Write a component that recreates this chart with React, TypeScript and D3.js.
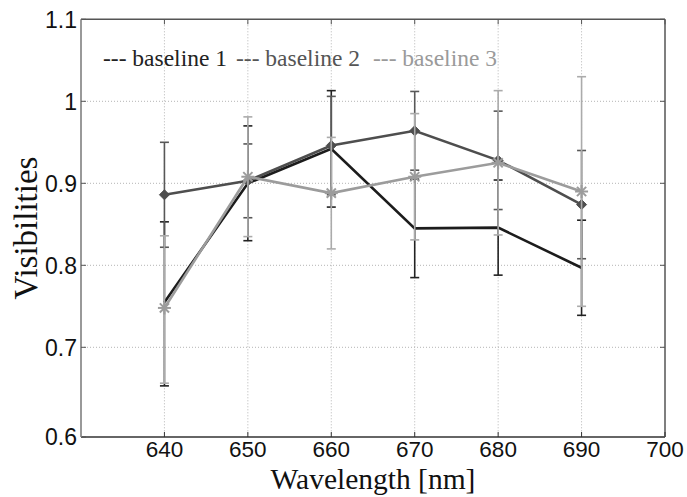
import React from "react";
import * as d3 from "d3";

const wavelengths = [640, 650, 660, 670, 680, 690];
const b1 = [0.755, 0.9, 0.942, 0.845, 0.846, 0.797];
const b1Err = [0.098, 0.07, 0.071, 0.06, 0.058, 0.058];
const b2 = [0.886, 0.903, 0.946, 0.964, 0.928, 0.874];
const b2Err = [0.064, 0.045, 0.06, 0.048, 0.06, 0.066];
const b3 = [0.748, 0.908, 0.888, 0.908, 0.925, 0.89];
const b3Err = [0.088, 0.073, 0.068, 0.077, 0.088, 0.14];
const xTicks = [640, 650, 660, 670, 680, 690, 700];
const yTicks = [0.6, 0.7, 0.8, 0.9, 1.0, 1.1];
const legendLabels = ["--- baseline 1", "--- baseline 2", "--- baseline 3"];

const W = 687;
const H = 497;
const L = 81;
const R = 665;
const T = 19.3;
const B = 437;

export default function App() {
  const x = d3.scaleLinear().domain([630, 700]).range([L, R]);
  const y = d3.scaleLinear().domain([0.6, 0.7, 1.1]).range([B, 347.3, T]);

  const series = [
    { vals: b1, errs: b1Err, line: "#1c1c1c", err: "#222", marker: "none" },
    { vals: b2, errs: b2Err, line: "#4e4e4e", err: "#585858", marker: "diamond" },
    { vals: b3, errs: b3Err, line: "#9c9c9c", err: "#ababab", marker: "star" },
  ];
  const legendColors = ["#222", "#555", "#9a9a9a"];
  const legendX = [103, 236, 373];

  const lineGen = d3
    .line<number>()
    .x((_, i) => x(wavelengths[i]))
    .y((d) => y(d));

  const grid = "#b4b4b4";
  const cap = 4.5;

  return (
    <svg
      width={W}
      height={H}
      style={{ position: "absolute", left: 0, top: 0, background: "#fff" }}
    >
      <rect x={0} y={0} width={W} height={H} fill="#fff" />
      {/* grid */}
      {xTicks.slice(0, -1).map((t) => (
        <line
          key={"gx" + t}
          x1={x(t)}
          x2={x(t)}
          y1={T}
          y2={B}
          stroke={grid}
          strokeWidth={1}
          strokeDasharray="1,2"
        />
      ))}
      {yTicks.slice(1, -1).map((t) => (
        <line
          key={"gy" + t}
          x1={L}
          x2={R}
          y1={y(t)}
          y2={y(t)}
          stroke={grid}
          strokeWidth={1}
          strokeDasharray="1,2"
        />
      ))}
      {/* axes box */}
      <line x1={L} x2={R} y1={T} y2={T} stroke="#555" strokeWidth={1.5} />
      <line x1={L} x2={R} y1={B} y2={B} stroke="#333" strokeWidth={1.5} />
      <line x1={L} x2={L} y1={T} y2={B} stroke="#999" strokeWidth={2} />
      <line x1={R} x2={R} y1={T} y2={B} stroke="#555" strokeWidth={1.5} />
      {/* ticks */}
      {xTicks.map((t) => (
        <g key={"tx" + t}>
          <line x1={x(t)} x2={x(t)} y1={B} y2={B - 5} stroke="#333" />
          <line x1={x(t)} x2={x(t)} y1={T} y2={T + 5} stroke="#555" />
          <text
            x={x(t)}
            y={B + 19.5}
            textAnchor="middle"
            fontFamily="'Liberation Sans', Arial, sans-serif"
            fontSize={22.5}
            fill="#111"
          >
            {t}
          </text>
        </g>
      ))}
      {yTicks.map((t) => (
        <g key={"ty" + t}>
          <line x1={L} x2={L + 5} y1={y(t)} y2={y(t)} stroke="#555" />
          <line x1={R} x2={R - 5} y1={y(t)} y2={y(t)} stroke="#555" />
          <text
            x={77}
            y={y(t)}
            dy="0.36em"
            textAnchor="end"
            fontFamily="'Liberation Sans', Arial, sans-serif"
            fontSize={23}
            fill="#111"
          >
            {d3.format("~g")(t)}
          </text>
        </g>
      ))}
      {/* series */}
      {series.map((s, si) => (
        <g key={"s" + si}>
          {s.vals.map((v, i) => {
            const cx = x(wavelengths[i]);
            const y1 = y(v + s.errs[i]);
            const y2 = y(v - s.errs[i]);
            return (
              <g key={i} stroke={s.err} strokeWidth={1.6}>
                <line x1={cx} x2={cx} y1={y1} y2={y2} />
                <line x1={cx - cap} x2={cx + cap} y1={y1} y2={y1} />
                <line x1={cx - cap} x2={cx + cap} y1={y2} y2={y2} />
              </g>
            );
          })}
          <path d={lineGen(s.vals) || ""} fill="none" stroke={s.line} strokeWidth={2.6} />
          {s.vals.map((v, i) => {
            const cx = x(wavelengths[i]);
            const cy = y(v);
            if (s.marker === "diamond") {
              const r = 5;
              return (
                <path
                  key={"m" + i}
                  d={`M${cx},${cy - r}L${cx + r},${cy}L${cx},${cy + r}L${cx - r},${cy}Z`}
                  fill={s.line}
                  stroke={s.line}
                />
              );
            }
            if (s.marker === "star") {
              const r = 6.5;
              const d = r * 0.707;
              return (
                <g key={"m" + i} stroke={s.line} strokeWidth={2}>
                  <line x1={cx - r} x2={cx + r} y1={cy} y2={cy} />
                  <line x1={cx} x2={cx} y1={cy - r} y2={cy + r} />
                  <line x1={cx - d} x2={cx + d} y1={cy - d} y2={cy + d} />
                  <line x1={cx - d} x2={cx + d} y1={cy + d} y2={cy - d} />
                </g>
              );
            }
            return null;
          })}
        </g>
      ))}
      {/* legend */}
      {legendLabels.map((lab, i) => (
        <text
          key={lab}
          x={legendX[i]}
          y={66}
          fontFamily="'Liberation Serif', 'Times New Roman', serif"
          fontSize={23.5}
          fill={legendColors[i]}
        >
          {lab}
        </text>
      ))}
      {/* axis labels */}
      <text
        x={(L + R) / 2}
        y={488.5}
        textAnchor="middle"
        fontFamily="'Liberation Serif', 'Times New Roman', serif"
        fontSize={29.5}
        fill="#111"
      >
        Wavelength [nm]
      </text>
      <text
        transform={`translate(37,228) rotate(-90)`}
        textAnchor="middle"
        fontFamily="'Liberation Serif', 'Times New Roman', serif"
        fontSize={33}
        fill="#111"
      >
        Visibilities
      </text>
    </svg>
  );
}
